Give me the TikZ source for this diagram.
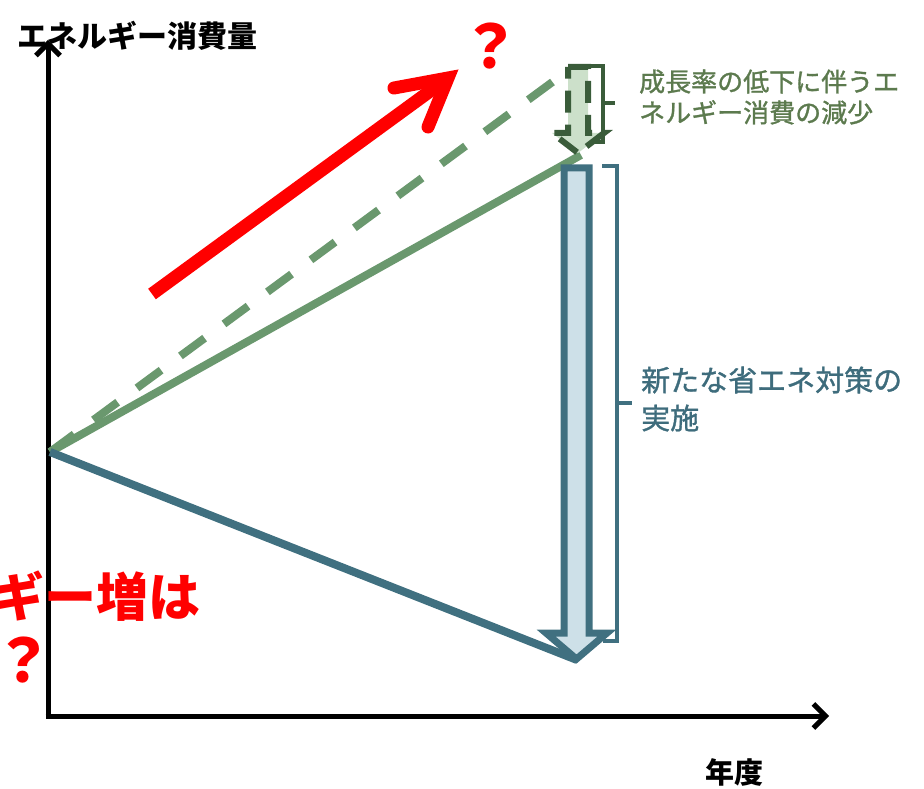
\documentclass[tikz,border=0pt]{standalone}
\usepackage{fontspec}
\newfontfamily\jp{Noto Sans CJK JP}
\newfontfamily\jpmed[FakeBold=1.2]{Noto Sans CJK JP}
\usetikzlibrary{arrows.meta}
\definecolor{gline}{RGB}{106,152,110}
\definecolor{gdark}{RGB}{58,92,58}
\definecolor{gfill}{RGB}{204,224,202}
\definecolor{tealc}{RGB}{64,112,128}
\definecolor{bfill}{RGB}{205,224,232}
\definecolor{gtext}{RGB}{92,122,78}
\definecolor{btext}{RGB}{62,108,124}
\definecolor{redc}{RGB}{255,0,0}
\tikzset{
  axis/.style={line width=5pt, -{Straight Barb[length=12pt,width=24pt]}},
  trend/.style={line width=8pt},
  bracketline/.style={line width=3.8pt},
  blacklabel/.style={inner sep=0pt, font=\jp\bfseries\fontsize{30}{30}\selectfont},
  redlabel/.style={inner sep=0pt, text=redc, font=\jp\bfseries\fontsize{52}{60}\selectfont},
}
\begin{document}
\begin{tikzpicture}[x=1pt,y=-1pt]
\useasboundingbox (0,0) rectangle (924,789);
\clip (0,0) rectangle (924,789);
% axes
\coordinate (axO) at (48,716);
\coordinate (yTop) at (48,40);
\coordinate (xEnd) at (829,716);
\draw[axis] (48,718.5) -- (yTop);
\draw[axis] (45.5,716) -- (xEnd);
% trend lines
\coordinate (O) at (50,452);
\coordinate (dashEnd) at (566,72);
\coordinate (greenEnd) at (581,155);
\coordinate (blueEnd) at (577,660);
\draw[trend, gline, dash pattern=on 30pt off 24pt] (O) -- (dashEnd);
\draw[trend, gline] (O) -- (greenEnd);
\draw[trend, tealc] (O) -- (blueEnd);
% big blue arrow
\draw[tealc, fill=bfill, line width=7pt, line join=miter]
  (564,168) -- (589,168) -- (589,633) -- (607,633) -- (576.5,659) -- (546,633) -- (564,633) -- cycle;
% blue bracket
\draw[tealc, bracketline] (602,166) -- (617,166) -- (617,641) -- (603,641);
\coordinate (bTick) at (617,403);
\coordinate (bTickEnd) at (632,403);
\draw[tealc, bracketline] (bTick) -- (bTickEnd);
% small green arrow
\draw[gdark, fill=gfill, line width=6pt, line join=miter, dash pattern=on 22pt off 12pt]
  (568,67) -- (588,67) -- (588,133) -- (604,133) -- (578,153) -- (552,133) -- (568,133) -- cycle;
% green bracket
\draw[gdark, bracketline] (590,66) -- (603,66) -- (603,142) -- (592,142);
\coordinate (gTick) at (603,103);
\coordinate (gTickEnd) at (615,103);
\draw[gdark, bracketline] (gTick) -- (gTickEnd);
% red arrow
\coordinate (rStart) at (152,294);
\coordinate (rTip) at (448,78);
\draw[redc, line width=13pt] (rStart) -- (rTip);
\draw[redc, line width=13pt, line cap=round, line join=miter] (394,88) -- (rTip) -- (428,127);
% labels
\node[blacklabel, anchor=west] (ylabel) at (17,36) {エネルギー消費量};
\node[blacklabel, font=\jp\bfseries\fontsize{29}{29}\selectfont] (xlabel) at (734,772) {年度};
\node[anchor=west, inner sep=0pt, align=left, text=gtext, font=\jpmed\fontsize{26}{31}\selectfont] (gnote) at (639,97) {成長率の低下に伴うエ\\ネルギー消費の減少};
\node[anchor=west, inner sep=0pt, align=left, text=btext, font=\jpmed\fontsize{29}{38}\selectfont] (bnote) at (641,399) {新たな省エネ対策の\\実施};
\node[redlabel, font=\jp\bfseries\fontsize{60}{60}\selectfont] (qtop) at (490,46) {？};
\node[redlabel, anchor=east] (redtext) at (201,596) {ギー増は};
\node[redlabel, font=\jp\bfseries\fontsize{60}{60}\selectfont] (qbottom) at (24,660) {？};
\end{tikzpicture}
\end{document}
